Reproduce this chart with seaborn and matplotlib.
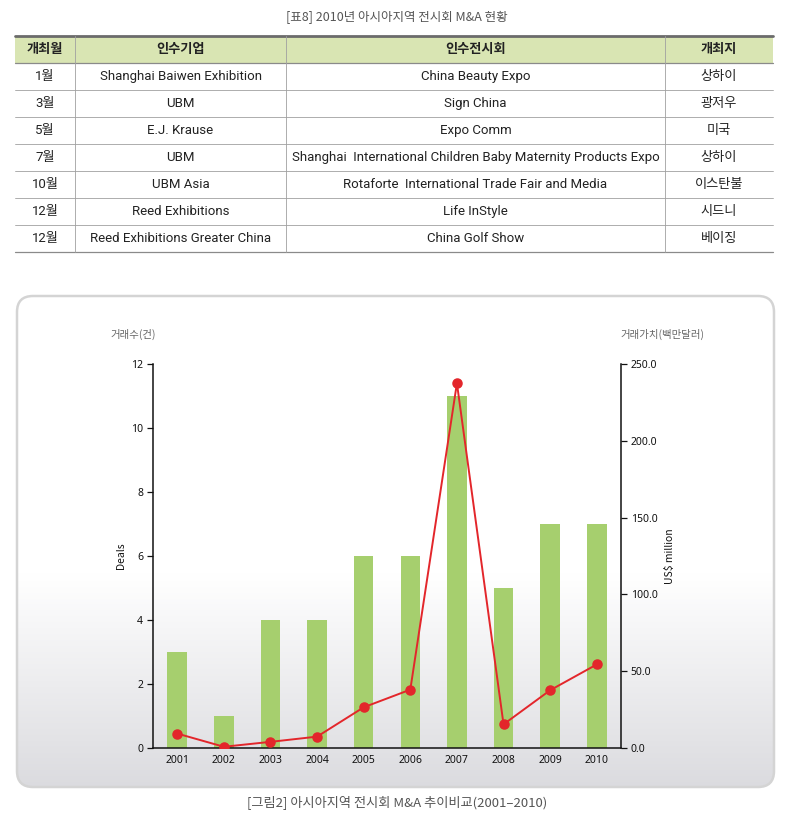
import numpy as np
import pandas as pd
import matplotlib
matplotlib.use("Agg")
import matplotlib.pyplot as plt
from matplotlib.patches import FancyBboxPatch, Rectangle
from matplotlib.ticker import FuncFormatter, FixedLocator
import seaborn as sns

sns.set_style("white")
plt.rcParams['font.family'] = ['Noto Sans CJK KR', 'DejaVu Sans']

# ---------------- data ----------------
table_title = "[표8] 2010년 아시아지역 전시회 M&A 현황"
table_header = ["개최월", "인수기업", "인수전시회", "개최지"]
col_month = ["1월", "3월", "5월", "7월", "10월", "12월", "12월"]
col_buyer = ["Shanghai Baiwen Exhibition", "UBM", "E.J. Krause", "UBM",
             "UBM Asia", "Reed Exhibitions", "Reed Exhibitions Greater China"]
col_show = ["China Beauty Expo", "Sign China", "Expo Comm",
            "Shanghai  International Children Baby Maternity Products Expo",
            "Rotaforte  International Trade Fair and Media", "Life InStyle",
            "China Golf Show"]
col_city = ["상하이", "광저우", "미국", "상하이", "이스탄불", "시드니", "베이징"]

years = ["2001", "2002", "2003", "2004", "2005", "2006", "2007", "2008", "2009", "2010"]
deals = [3, 1, 4, 4, 6, 6, 11, 5, 7, 7]
value_musd = [9.4, 0.8, 4.0, 7.4, 26.5, 38.0, 237.5, 15.4, 37.6, 54.4]

left_ticks = [0, 2, 4, 6, 8, 10, 12]
right_ticks = [0, 50, 100, 150, 200, 250]
caption = "[그림2] 아시아지역 전시회 M&A 추이비교(2001–2010)"

# ---------------- figure ----------------
W, H = 794, 826
fig = plt.figure(figsize=(W / 100, H / 100), dpi=100)
fig.patch.set_facecolor("white")

bg = fig.add_axes([0, 0, 1, 1], zorder=0)
bg.set_xlim(0, W)
bg.set_ylim(H, 0)
bg.axis("off")

# table title
bg.text(397, 17, table_title, ha="center", va="center", fontsize=9, color="#555555")

# table
x_edges = [15, 75, 286, 665, 773]
y_top, hdr_h, row_h = 36, 27, 27
bg.add_patch(Rectangle((x_edges[0], y_top), x_edges[-1] - x_edges[0], hdr_h,
                       facecolor="#d9e5b3", edgecolor="none"))
n_rows = len(col_month)
y_bot = y_top + hdr_h + n_rows * row_h
bg.plot([x_edges[0], x_edges[-1]], [y_top, y_top], color="#6b6b6b", lw=2)
bg.plot([x_edges[0], x_edges[-1]], [y_top + hdr_h, y_top + hdr_h], color="#8a8a8a", lw=0.9)
for i in range(1, n_rows):
    yy = y_top + hdr_h + i * row_h
    bg.plot([x_edges[0], x_edges[-1]], [yy, yy], color="#a0a0a0", lw=0.6)
bg.plot([x_edges[0], x_edges[-1]], [y_bot, y_bot], color="#8a8a8a", lw=0.9)
for xe in x_edges[1:-1]:
    bg.plot([xe, xe], [y_top, y_bot], color="#a0a0a0", lw=0.6)

centers = [(x_edges[i] + x_edges[i + 1]) / 2 for i in range(4)]
tfam = ['Roboto', 'Noto Sans CJK KR', 'DejaVu Sans']
for c, h in zip(centers, table_header):
    bg.text(c, y_top + hdr_h / 2, h, ha="center", va="center", fontsize=9.5,
            fontweight="bold", color="#222222", family=['Noto Sans CJK KR', 'DejaVu Sans'])
for r in range(n_rows):
    yc = y_top + hdr_h + r * row_h + row_h / 2
    for c, txt in zip(centers, [col_month[r], col_buyer[r], col_show[r], col_city[r]]):
        bg.text(c, yc, txt, ha="center", va="center", fontsize=9.5,
                color="#222222", family=tfam)

# rounded panel with gradient
box = FancyBboxPatch((17, 296), 757, 491, boxstyle="round,pad=0,rounding_size=16",
                     facecolor="none", edgecolor="#d4d4d4", lw=1.8, zorder=3)
bg.add_patch(box)
yy = np.linspace(296, 787, 300)
t = np.clip((yy - 575) / (787 - 575), 0, 1)
col_top = np.array([1.0, 1.0, 1.0])
col_bot = np.array([0.86, 0.86, 0.875])
img = (col_top[None, :] * (1 - t[:, None]) + col_bot[None, :] * t[:, None])[:, None, :]
im = bg.imshow(img, extent=[17, 774, 787, 296], aspect="auto", zorder=1)
im.set_clip_path(box)

# caption
bg.text(397, 802, caption, ha="center", va="center", fontsize=9.5, color="#555555")

# axis captions
bg.text(133, 334, "거래수(건)", ha="center", va="center", fontsize=7.5, color="#666666")
bg.text(662, 334, "거래가치(백만달러)", ha="center", va="center", fontsize=7.5, color="#666666")
bg.text(121, 556, "Deals", ha="center", va="center", rotation=90, fontsize=7.5, color="#111111")
bg.text(670, 556, "US$ million", ha="center", va="center", rotation=90, fontsize=7.5, color="#111111")

# ---------------- chart ----------------
L, R, T, B = 153, 621, 364, 748
ax = fig.add_axes([L / W, (H - B) / H, (R - L) / W, (B - T) / H], zorder=2)
ax.set_facecolor("none")
df = pd.DataFrame({"year": years, "deals": deals, "value": value_musd})
sns.barplot(data=df, x="year", y="deals", ax=ax, color="#a6cf6e", width=0.42,
            saturation=1, edgecolor="none")
ax.set_ylim(0, 12)
ax.yaxis.set_major_locator(FixedLocator(left_ticks))
ax.set_xlabel("")
ax.set_ylabel("")

ax2 = ax.twinx()
ax2.set_facecolor("none")
sns.pointplot(data=df, x="year", y="value", ax=ax2, color="#e3262b",
              markers="o", markersize=6.5, linewidth=1.4, errorbar=None)
ax2.set_ylim(0, 250)
ax2.yaxis.set_major_locator(FixedLocator(right_ticks))
ax2.yaxis.set_major_formatter(FuncFormatter(lambda v, p: f"{v:.1f}"))
ax2.set_ylabel("")
ax2.set_xlabel("")
ax.set_xlim(-0.52, 9.52)
ax2.set_xlim(-0.52, 9.52)

for a in (ax, ax2):
    a.spines["top"].set_visible(False)
    for s in ("left", "right", "bottom"):
        a.spines[s].set_color("#111111")
        a.spines[s].set_linewidth(1.1)
ax.spines["right"].set_visible(False)
ax2.spines["left"].set_visible(False)
ax2.spines["bottom"].set_visible(False)

ax.tick_params(axis="y", direction="out", length=4, width=0.9, color="#111111",
               labelsize=7.5, pad=3, left=True)
ax.tick_params(axis="x", length=0, labelsize=7.5, pad=5)
ax2.tick_params(axis="y", direction="out", length=4, width=0.9, color="#111111",
                labelsize=7.5, pad=3, right=True)
for lab in ax.get_xticklabels() + ax.get_yticklabels() + ax2.get_yticklabels():
    lab.set_fontfamily(['Noto Sans', 'DejaVu Sans'])
    lab.set_color("#111111")

fig.savefig("out.png", dpi=100)
